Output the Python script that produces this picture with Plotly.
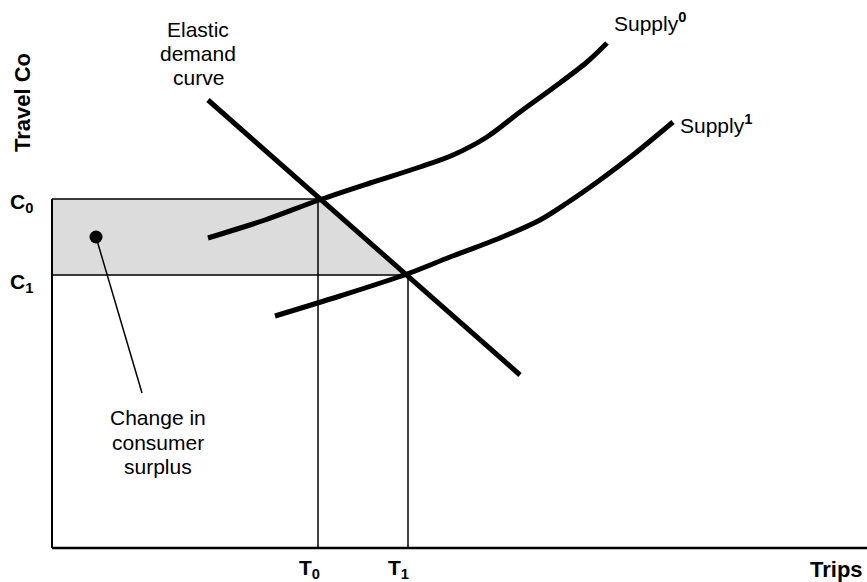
import plotly.graph_objects as go

# ---- data (x: trips, y: travel cost; arbitrary units) ----
C0 = 34.9
C1 = 27.3
T0 = 26.6
T1 = 35.6

demand_x = [15.6, 46.8]
demand_y = [44.8, 17.3]

supply0_x = [15.6, 21.3, 26.7, 31.8, 36.8, 40.1, 43.5, 46.8, 50.1, 53.5, 55.5]
supply0_y = [31.0, 32.8, 34.8, 36.5, 38.1, 39.3, 41.1, 43.6, 46.0, 48.6, 50.5]

supply1_x = [22.3, 28.8, 35.5, 39.8, 44.8, 48.8, 51.5, 54.8, 58.1, 62.1]
supply1_y = [23.2, 25.2, 27.4, 29.1, 31.0, 32.8, 34.5, 36.8, 39.3, 42.6]

x_max_axis = 81.5
pointer_dot = (4.4, 31.1)
pointer_end = (9.0, 15.5)

FONT = "Liberation Sans, Arial, sans-serif"

fig = go.Figure()

# shaded consumer-surplus area
fig.add_trace(go.Scatter(
    x=[0, 0, T0, T1, 0], y=[C1, C0, C0, C1, C1],
    fill="toself", fillcolor="#dcdcdc", mode="lines",
    line=dict(color="rgba(0,0,0,0)", width=0), hoverinfo="skip"))

thin = dict(color="black", width=1.5)
# guide lines
fig.add_trace(go.Scatter(x=[0, T0], y=[C0, C0], mode="lines", line=thin))
fig.add_trace(go.Scatter(x=[0, T1], y=[C1, C1], mode="lines", line=thin))
fig.add_trace(go.Scatter(x=[T0, T0], y=[0, C0], mode="lines", line=thin))
fig.add_trace(go.Scatter(x=[T1, T1], y=[0, C1], mode="lines", line=thin))
fig.add_trace(go.Scatter(x=[0, 0], y=[0, C0], mode="lines", line=dict(color="black", width=2)))
fig.add_trace(go.Scatter(x=[0, x_max_axis], y=[0, 0], mode="lines", line=dict(color="black", width=2.5)))

# curves
fig.add_trace(go.Scatter(x=demand_x, y=demand_y, mode="lines", line=dict(color="black", width=5)))
fig.add_trace(go.Scatter(x=supply0_x, y=supply0_y, mode="lines",
                         line=dict(color="black", width=5, shape="spline", smoothing=0.9)))
fig.add_trace(go.Scatter(x=supply1_x, y=supply1_y, mode="lines",
                         line=dict(color="black", width=5, shape="spline", smoothing=0.9)))

# pointer
fig.add_trace(go.Scatter(x=[pointer_dot[0], pointer_end[0]], y=[pointer_dot[1], pointer_end[1]],
                         mode="lines", line=dict(color="black", width=1.5)))
fig.add_trace(go.Scatter(x=[pointer_dot[0]], y=[pointer_dot[1]], mode="markers",
                         marker=dict(color="black", size=13)))

def ann(text, x, y, size=22, bold=False, xanchor="center", yanchor="middle", textangle=0):
    if bold:
        text = "<b>" + text + "</b>"
    fig.add_annotation(x=x, y=y, text=text, showarrow=False, xanchor=xanchor, yanchor=yanchor,
                       textangle=textangle, font=dict(family=FONT, size=size, color="black"))

for txt, yy in [("Elastic", 51.9), ("demand", 49.5), ("curve", 47.1)]:
    ann(txt, 14.6, yy, size=21)
for txt, yy in [("Change in", 13.1), ("consumer", 10.6), ("surplus", 8.2)]:
    ann(txt, 10.6, yy, size=21)
ann("Supply<sup><b>0</b></sup>", 56.0, 52.6, size=21, xanchor="left")
ann("Supply<sup><b>1</b></sup>", 62.6, 42.4, size=21, xanchor="left")
ann("C<sub>0</sub>", -3.1, 34.5, size=21, bold=True)
ann("C<sub>1</sub>", -3.1, 26.5, size=21, bold=True)
ann("T<sub>0</sub>", 25.7, -2.1, size=21, bold=True)
ann("T<sub>1</sub>", 34.6, -2.1, size=21, bold=True)
ann("Trips", 78.4, -2.1, size=22, bold=True)
ann("Travel Co", -3.0, 44.5, size=22, bold=True, textangle=-90)

fig.update_layout(
    width=867, height=582, showlegend=False,
    margin=dict(l=0, r=0, t=0, b=0),
    paper_bgcolor="white", plot_bgcolor="white",
    xaxis=dict(range=[-5.2, 81.5], visible=False, fixedrange=True),
    yaxis=dict(range=[-3.4, 54.8], visible=False, fixedrange=True),
)

fig.write_html("out.html", post_script="document.body.style.margin='0';",
               config={"displayModeBar": False})
